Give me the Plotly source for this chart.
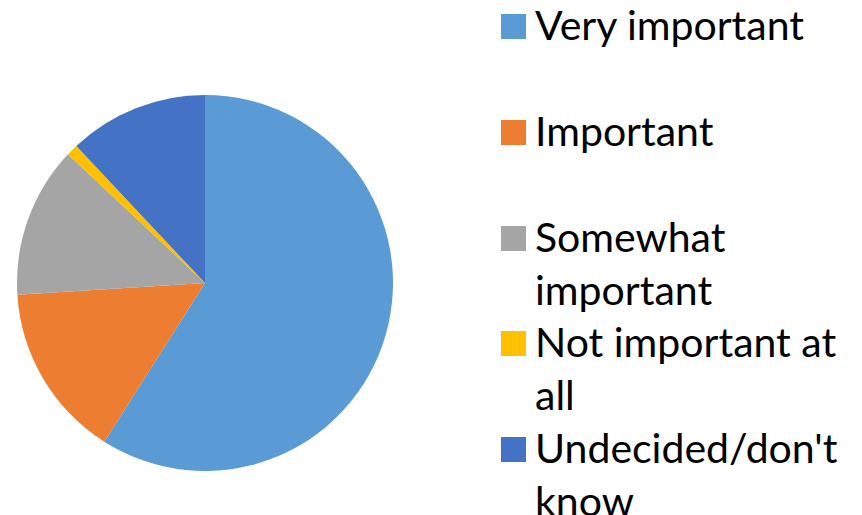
import plotly.graph_objects as go

categories = ["Very important", "Important", "Somewhat important",
              "Not important at all", "Undecided/don't know"]
legend_labels = ["Very important", "Important", "Somewhat<br>important",
                 "Not important at<br>all", "Undecided/don't<br>know"]
values = [59, 15, 13, 1, 12]
colors = ["#5B9BD5", "#ED7D31", "#A5A5A5", "#FFC000", "#4472C4"]

W, H = 862, 515
FONT = "Lato"
FS = 41

def px(x):
    return x / W

def py(y):
    return 1 - y / H

fig = go.Figure()
fig.add_trace(go.Pie(
    labels=categories, values=values, sort=False, direction="clockwise",
    rotation=0, textinfo="none", hoverinfo="label+percent",
    marker=dict(colors=colors, line=dict(width=0)),
    domain=dict(x=[px(17), px(393)], y=[py(471), py(95)]),
    showlegend=False,
))

baselines = [39, 145, 251, 356, 462]
shapes, annotations = [], []
for lab, col, b in zip(legend_labels, colors, baselines):
    shapes.append(dict(type="rect", xref="paper", yref="paper",
                       x0=px(501), x1=px(526), y0=py(b), y1=py(b - 25),
                       fillcolor=col, line=dict(width=0)))
    annotations.append(dict(text=lab, xref="paper", yref="paper",
                            x=px(533), y=py(b - 41), xanchor="left", yanchor="top",
                            align="left", showarrow=False,
                            font=dict(family=FONT, size=FS, color="#000000")))

fig.update_layout(width=W, height=H, margin=dict(l=0, r=0, t=0, b=0),
                  paper_bgcolor="white", plot_bgcolor="white",
                  shapes=shapes, annotations=annotations)
fig.write_html("out.html", config={"displayModeBar": False},
               post_script="document.body.style.margin='0';document.body.style.overflow='hidden';")
